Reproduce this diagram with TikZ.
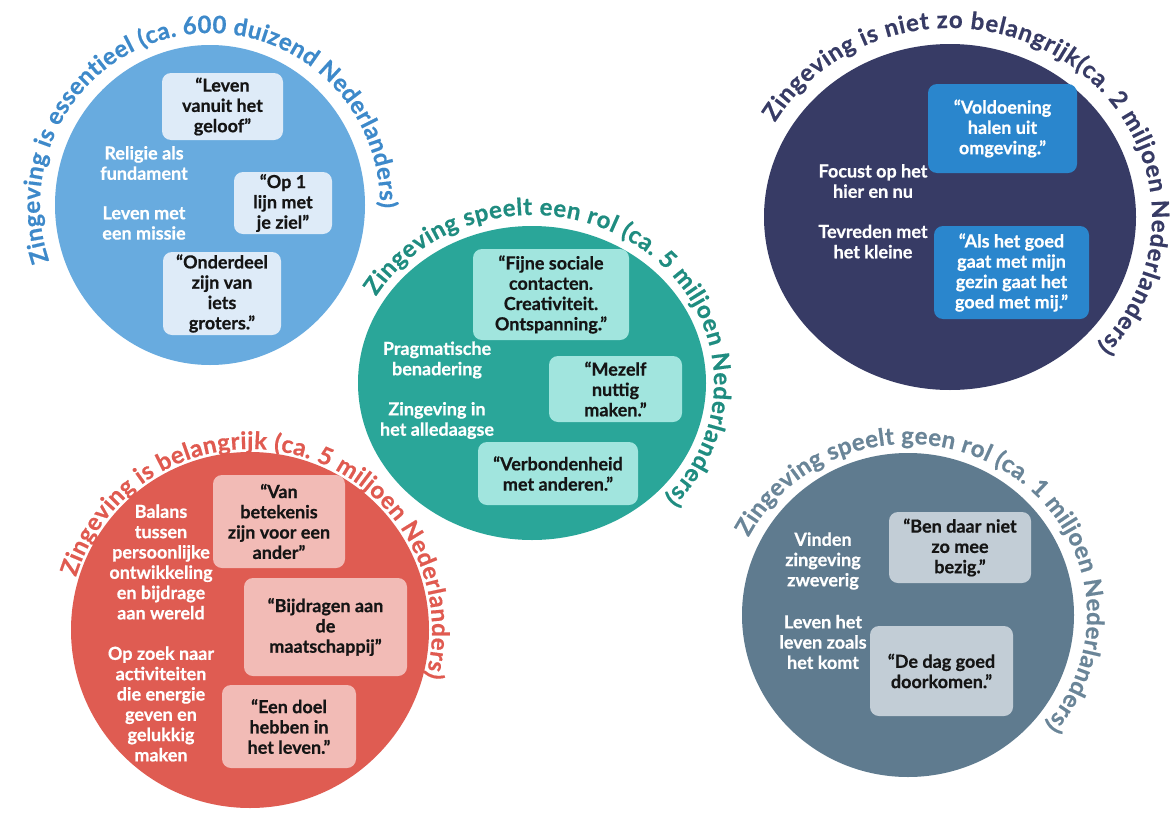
\documentclass[tikz,border=0pt]{standalone}
\usepackage{fontspec}
\setmainfont{Lato}[FakeBold=0.6]
\usetikzlibrary{decorations.text}
\definecolor{bC}{HTML}{68ABDF}\definecolor{bT}{HTML}{3D89CA}\definecolor{bB}{HTML}{DEEBF8}
\definecolor{tC}{HTML}{2AA699}\definecolor{tT}{HTML}{1F8C80}\definecolor{tB}{HTML}{A1E5DE}
\definecolor{rC}{HTML}{DF5C52}\definecolor{rT}{HTML}{E05A50}\definecolor{rB}{HTML}{F2BBB6}
\definecolor{nC}{HTML}{373B65}\definecolor{nT}{HTML}{373B65}\definecolor{nB}{HTML}{2A86CD}
\definecolor{sC}{HTML}{5F7B8F}\definecolor{sT}{HTML}{6A8598}\definecolor{sB}{HTML}{C2CDD6}
\definecolor{ink}{HTML}{151515}
\newcommand\bxfont{\fontsize{18}{20.3}\selectfont\bfseries}
\newcommand\ttlfont{\fontsize{24}{24}\selectfont\bfseries}
\tikzset{
  qbox/.style={fill=#1, rounded corners=9pt, align=center, font=\bxfont, text=ink, inner sep=0pt},
  lbl/.style={align=center, font=\bxfont, text=white, inner sep=0pt},
}
\begin{document}
\begin{tikzpicture}[x=1pt,y=-1pt]
\fill[white] (0,0) rectangle (1176,814);
\useasboundingbox (0,0) rectangle (1176,814);
% circles
\fill[bC] (210,205) ellipse[x radius=155, y radius=160];
\fill[tC] (532,383) ellipse[x radius=174, y radius=157];
\fill[nC] (950,217) ellipse[x radius=186, y radius=173];
\fill[rC] (250,630) ellipse[x radius=179, y radius=178];
\fill[sC] (908,615) ellipse[x radius=166, y radius=162];
% titles
\path[shift={(210,205)}, decorate, decoration={text along path, text align={fit to path}, text={|\ttlfont\color{bT}|Zingeving is essentieel (ca. 600 duizend Nederlanders)}}]
  (-199:170 and 172) arc[start angle=-199, end angle=1, x radius=170, y radius=172];
\path[shift={(532,383)}, decorate, decoration={text along path, text align={fit to path}, text={|\ttlfont\color{tT}|Zingeving speelt een rol (ca. 5 miljoen Nederlanders)}}]
  (-149:182 and 168) arc[start angle=-149, end angle=43, x radius=182, y radius=168];
\path[shift={(950,217)}, decorate, decoration={text along path, text align={fit to path}, text={|\ttlfont\color{nT}|Zingeving is niet zo belangrijk(ca. 2 miljoen Nederlanders)}}]
  (-150:202 and 189) arc[start angle=-150, end angle=43, x radius=202, y radius=189];
\path[shift={(250,630)}, decorate, decoration={text along path, text align={fit to path}, text={|\ttlfont\color{rT}|Zingeving is belangrijk (ca. 5 miljoen Nederlanders)}}]
  (-163:182 and 181) arc[start angle=-163, end angle=15, x radius=182, y radius=181];
\path[shift={(908,615)}, decorate, decoration={text along path, text align={fit to path}, text={|\ttlfont\color{sT}|Zingeving speelt geen rol (ca. 1 miljoen Nederlanders)}}]
  (-153:179 and 171) arc[start angle=-153, end angle=40, x radius=179, y radius=171];
% blue
\node[qbox=bB, minimum width=121pt, minimum height=67pt] (b1) at (222.5,106.5) {“Leven\\vanuit het\\geloof”};
\node[qbox=bB, minimum width=98pt, minimum height=62pt] (b2) at (283,203) {“Op 1\\lijn met\\je ziel”};
\node[qbox=bB, minimum width=118pt, minimum height=83pt] (b3) at (222,293.5) {“Onderdeel\\zijn van\\iets\\groters.”};
\node[lbl] (bl1) at (144,163) {Religie als\\fundament};
\node[lbl] (bl2) at (144,223) {Leven met\\een missie};
% teal
\node[qbox=tB, minimum width=156pt, minimum height=91pt] (t1) at (551,294.5) {“Fijne sociale\\contacten.\\Creativiteit.\\Ontspanning.”};
\node[qbox=tB, minimum width=133pt, minimum height=66pt] (t2) at (615.5,389) {“Mezelf\\nuttig\\maken.”};
\node[qbox=tB, minimum width=160pt, minimum height=63pt] (t3) at (558,473.5) {“Verbondenheid\\met anderen.”};
\node[lbl] (tl1) at (437,360) {Pragmatische\\benadering};
\node[lbl] (tl2) at (437,420.5) {Zingeving in\\het alledaagse};
% red
\node[qbox=rB, minimum width=132pt, minimum height=93pt] (r1) at (279,521.5) {“Van\\betekenis\\zijn voor een\\ander”};
\node[qbox=rB, minimum width=163pt, minimum height=98pt] (r2) at (325.5,627) {“Bijdragen aan\\de\\maatschappij”};
\node[qbox=rB, minimum width=134pt, minimum height=83pt] (r3) at (289,726.5) {“Een doel\\hebben in\\het leven.”};
\node[lbl] (rl1) at (161,562) {Balans\\tussen\\persoonlijke\\ontwikkeling\\en bijdrage\\aan wereld};
\node[lbl] (rl2) at (161,704) {Op zoek naar\\activiteiten\\die energie\\geven en\\gelukkig\\maken};
% navy
\node[qbox=nB, text=white, minimum width=149pt, minimum height=89pt] (n1) at (1002.5,128.5) {“Voldoening\\halen uit\\omgeving.”};
\node[qbox=nB, text=white, minimum width=155pt, minimum height=93pt] (n2) at (1011.5,272.5) {“Als het goed\\gaat met mijn\\gezin gaat het\\goed met mij.”};
\node[lbl] (nl1) at (873,181) {Focust op het\\hier en nu};
\node[lbl] (nl2) at (873,241.5) {Tevreden met\\het kleine};
% slate
\node[qbox=sB, minimum width=142pt, minimum height=71pt] (s1) at (960,547.5) {“Ben daar niet\\zo mee\\bezig.”};
\node[qbox=sB, minimum width=143pt, minimum height=90pt] (s2) at (941.5,671) {“De dag goed\\doorkomen.”};
\node[lbl] (sl1) at (823,561) {Vinden\\zingeving\\zweverig};
\node[lbl] (sl2) at (823,642) {Leven het\\leven zoals\\het komt};
\end{tikzpicture}
\end{document}
